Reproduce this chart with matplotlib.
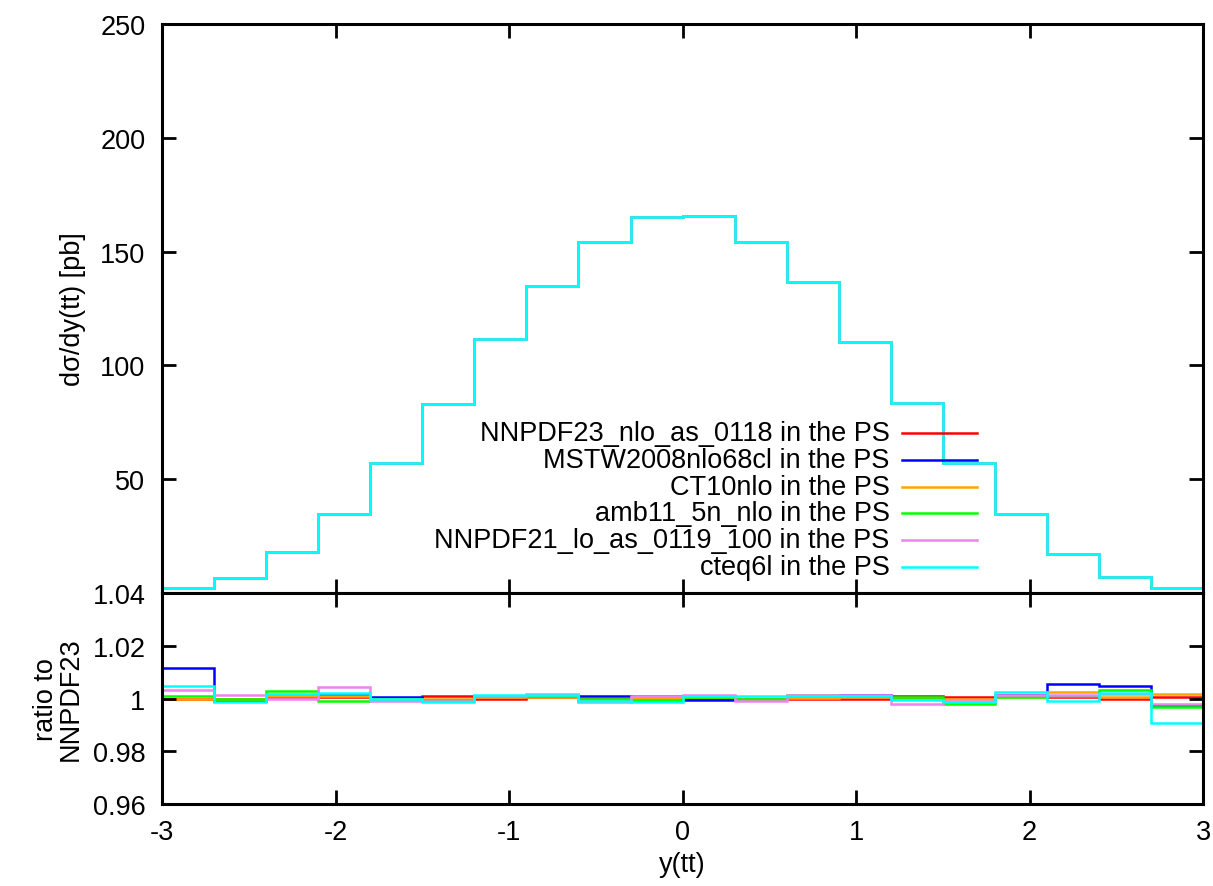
import numpy as np
import matplotlib
matplotlib.use("Agg")
import matplotlib.pyplot as plt

plt.rcParams['font.family'] = ['Liberation Sans', 'DejaVu Sans']
plt.rcParams['font.size'] = 19.5
plt.rcParams['axes.unicode_minus'] = False

# rapidity bins of the tt pair
edges = [-3.0, -2.7, -2.4, -2.1, -1.8, -1.5, -1.2, -0.9, -0.6, -0.3, 0.0,
         0.3, 0.6, 0.9, 1.2, 1.5, 1.8, 2.1, 2.4, 2.7, 3.0]

# dsigma/dy [pb] (all PDF sets overlap in the main panel)
xsec = [2.0, 6.7, 18.1, 34.8, 57.2, 82.9, 111.6, 135.0, 154.4, 165.2,
        165.5, 154.4, 136.6, 110.5, 83.5, 57.2, 34.8, 17.3, 7.0, 2.0]

labels = ['NNPDF23_nlo_as_0118 in the PS', 'MSTW2008nlo68cl in the PS',
          'CT10nlo in the PS', 'amb11_5n_nlo in the PS',
          'NNPDF21_lo_as_0119_100 in the PS', 'cteq6l in the PS']
colors = ['#ff0000', '#0000ff', '#ffa500', '#00ff00', '#ee82ee', '#00ffff']

# ratio to NNPDF23
r_nnpdf23 = [1.0000, 1.0000, 1.0004, 1.0004, 1.0000, 1.0008, 1.0000, 1.0004, 1.0000, 1.0008,
             1.0000, 1.0000, 1.0000, 1.0000, 1.0008, 1.0004, 1.0008, 1.0004, 1.0000, 1.0004]
r_mstw = [1.0116, 0.9990, 1.0010, 1.0015, 1.0006, 0.9996, 1.0010, 1.0008, 1.0008, 0.9995,
          0.9996, 1.0000, 1.0008, 1.0015, 0.9998, 0.9987, 1.0015, 1.0054, 1.0047, 0.9975]
r_ct10 = [1.0000, 1.0000, 1.0008, 1.0009, 1.0000, 0.9998, 1.0006, 1.0004, 0.9995, 1.0002,
          1.0004, 1.0000, 1.0002, 1.0005, 1.0000, 1.0000, 1.0006, 1.0026, 1.0004, 1.0016]
r_amb11 = [1.0008, 1.0000, 1.0030, 0.9990, 1.0000, 0.9995, 1.0010, 1.0010, 1.0000, 0.9995,
           1.0005, 0.9998, 1.0015, 1.0010, 1.0006, 0.9979, 1.0005, 1.0010, 1.0034, 0.9967]
r_nnpdf21 = [1.0031, 1.0012, 1.0000, 1.0044, 0.9990, 0.9992, 1.0008, 1.0018, 0.9986, 1.0010,
             1.0014, 0.9990, 1.0012, 1.0015, 0.9981, 0.9990, 1.0015, 1.0012, 1.0019, 0.9979]
r_cteq6l = [1.0049, 0.9986, 1.0019, 1.0021, 0.9998, 0.9988, 1.0014, 1.0012, 0.9990, 0.9988,
            1.0008, 1.0008, 1.0010, 1.0008, 0.9996, 0.9986, 1.0026, 0.9992, 1.0021, 0.9908]
ratios = [r_nnpdf23, r_mstw, r_ct10, r_amb11, r_nnpdf21, r_cteq6l]

fig = plt.figure(figsize=(12.13, 8.87), dpi=100)
ax1 = fig.add_axes([0.1336, 0.3303, 0.8582, 0.6415])
ax2 = fig.add_axes([0.1336, 0.0924, 0.8582, 0.2379])

for c in colors:
    ax1.stairs(xsec, edges, baseline=None, color=c, lw=1.8)
for r, c in zip(ratios, colors):
    ax2.stairs(r, edges, baseline=None, color=c, lw=1.8)

# gnuplot style key: right aligned text, sample line on the right
for i, (lab, c) in enumerate(zip(labels, colors)):
    yk = 0.282 - i * 0.0474
    ax1.text(0.699, yk, lab, transform=ax1.transAxes, ha='right', va='center')
    ax1.plot([0.711, 0.783], [yk, yk], transform=ax1.transAxes, color=c, lw=1.8)

ax1.set_xlim(-3, 3)
ax1.set_ylim(0, 250)
ax1.set_yticks([50, 100, 150, 200, 250])
ax1.set_xticks([-3, -2, -1, 0, 1, 2, 3])
ax1.tick_params(labelbottom=False)
ax1.set_ylabel('dσ/dy(tt) [pb]', labelpad=10)

ax2.set_xlim(-3, 3)
ax2.set_ylim(0.96, 1.04)
ax2.set_yticks([0.96, 0.98, 1.0, 1.02, 1.04])
ax2.set_yticklabels(['0.96', '0.98', '1', '1.02', '1.04'])
ax2.set_xticks([-3, -2, -1, 0, 1, 2, 3])
ax2.set_xlabel('y(tt)', labelpad=4)
ax2.set_ylabel('ratio to\nNNPDF23', labelpad=6, linespacing=0.95)

for ax in (ax1, ax2):
    for s in ax.spines.values():
        s.set_linewidth(2.2)
    ax.tick_params(direction='in', length=10, width=2, top=True, right=True, pad=11)
    ax.tick_params(axis='y', pad=12)

fig.savefig('out.png', dpi=100)
